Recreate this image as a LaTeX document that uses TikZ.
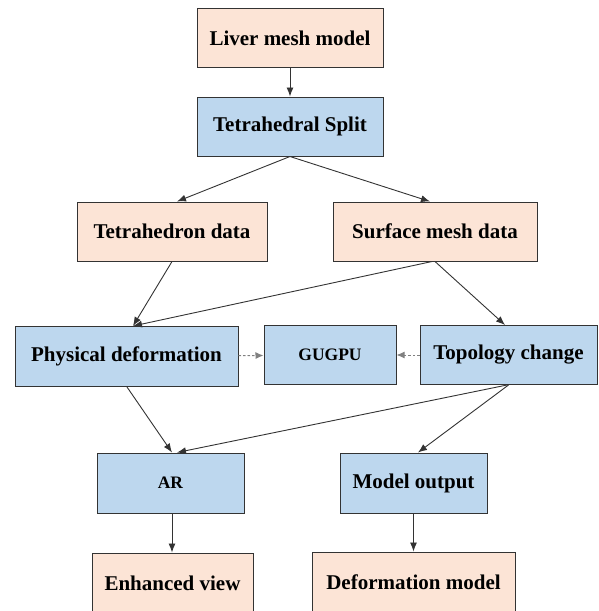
\documentclass[tikz,border=0pt]{standalone}
\usepackage{fontspec}
\setmainfont{Liberation Serif}
\usetikzlibrary{arrows.meta}

\definecolor{peach}{HTML}{FCE4D6}
\definecolor{paleblue}{HTML}{BDD7EE}
\definecolor{edgegray}{HTML}{333333}

\begin{document}
\begin{tikzpicture}[x=1pt,y=-1pt,
    box/.style={draw=edgegray, line width=1pt, inner sep=0pt,
        minimum height=59pt, font=\fontsize{21}{25}\selectfont\bfseries},
    databox/.style={box, fill=peach},
    stagebox/.style={box, fill=paleblue},
    link/.style={draw=edgegray, line width=0.9pt,
        -{Latex[length=9pt,width=7pt]}},
    hint/.style={draw=gray, line width=1pt, dash pattern=on 2.5pt off 2pt,
        -{Latex[length=8pt,width=7pt]}}]
\useasboundingbox (0,0) rectangle (599,611);

% Input
\node [databox, minimum width=186pt] (liver) at (290,38) {Liver mesh model};
\node [stagebox, minimum width=186pt] (split) at (290,126.5) {Tetrahedral Split};

% Split data
\node [databox, minimum width=190pt] (tetra) at (172,231.5) {Tetrahedron data};
\node [databox, minimum width=204pt] (surface) at (435,231.5) {Surface mesh data};

% Processing
\node [stagebox, minimum width=223pt, minimum height=60pt] (phys) at (126.5,356.5) {Physical deformation};
\node [stagebox, minimum width=132pt, font=\fontsize{17.5}{21}\selectfont\bfseries] (gugpu) at (330,355) {GUGPU};
\node [stagebox, minimum width=177pt] (topo) at (508.5,355) {Topology change};

% Output
\node [stagebox, minimum width=147pt, minimum height=60pt, font=\fontsize{17.5}{21}\selectfont\bfseries] (ar) at (170.5,483) {AR};
\node [stagebox, minimum width=147pt, minimum height=60pt] (model) at (413.5,483) {Model output};
\node [databox, minimum width=161pt, minimum height=60pt] (enh) at (172.5,583) {Enhanced view};
\node [databox, minimum width=203pt, minimum height=60pt] (deform) at (413.5,582) {Deformation model};

% Connectors
\draw [link] (liver) -- (split);
\draw [link] (split.south) -- ([xshift=5pt]tetra.north);
\draw [link] (split.south) -- ([xshift=-5pt]surface.north);
\draw [link] (tetra.south) -- ([xshift=6.5pt]phys.north);
\draw [link] ([xshift=-3pt]surface.south) -- ([xshift=6.5pt]phys.north);
\draw [link] (surface.south) -- ([xshift=-3.5pt]topo.north);
\draw [hint] (phys) -- (gugpu);
\draw [hint] (topo) -- (gugpu);
\draw [link] ([xshift=0.5pt]phys.south) -- ([xshift=1.5pt]ar.north);
\draw [link] ([xshift=-1.5pt]topo.south) -- ([xshift=6.5pt]ar.north);
\draw [link] (topo.south) -- ([xshift=4.5pt]model.north);
\draw [link] ([xshift=1.5pt]ar.south) -- ([xshift=1.5pt]ar.south |- enh.north);
\draw [link] (model) -- (model |- deform.north);

\end{tikzpicture}
\end{document}
